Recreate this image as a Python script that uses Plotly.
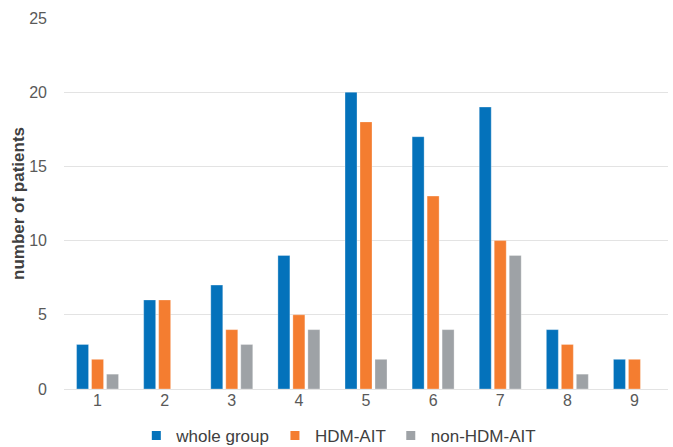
import plotly.graph_objects as go

categories = ["1", "2", "3", "4", "5", "6", "7", "8", "9"]
whole_group = [3, 6, 7, 9, 20, 17, 19, 4, 2]
hdm_ait = [2, 6, 4, 5, 18, 13, 10, 3, 2]
non_hdm_ait = [1, 0, 3, 4, 2, 4, 9, 1, 0]

series = [
    ("whole group", whole_group, "#0472BB"),
    ("HDM-AIT", hdm_ait, "#F47D30"),
    ("non-HDM-AIT", non_hdm_ait, "#9EA2A6"),
]

fig = go.Figure()
for name, vals, color in series:
    fig.add_trace(go.Bar(
        x=categories, y=vals, name=name, showlegend=False,
        marker=dict(color=color, line=dict(color="rgba(255,255,255,0.5)", width=0.6)),
    ))
    # small square legend key
    fig.add_trace(go.Scatter(
        x=[None], y=[None], name=name, mode="markers",
        marker=dict(symbol="square", size=9, color=color),
    ))

fig.update_layout(
    width=673, height=447,
    margin=dict(l=64, r=5, t=18, b=58, autoexpand=False),
    paper_bgcolor="white", plot_bgcolor="white",
    barmode="group", bargap=0.33, bargroupgap=0.2,
    font=dict(family="Liberation Sans, Arial, sans-serif", color="#595959", size=15),
    legend=dict(
        orientation="h", x=0.455, xanchor="center",
        yref="container", y=0.025, yanchor="middle",
        font=dict(size=17, color="#404040"),
        itemwidth=30, traceorder="normal",
    ),
    xaxis=dict(
        showgrid=False, showline=False, ticks="",
        tickfont=dict(size=16, color="#595959"),
    ),
    yaxis=dict(
        range=[0, 25], dtick=5, showgrid=True, gridcolor="#E3E3E3", gridwidth=1,
        zeroline=True, zerolinecolor="#E3E3E3", zerolinewidth=1,
        ticks="", ticklabelstandoff=16,
        tickfont=dict(size=16, color="#595959"),
        title=dict(text="<b>number of patients</b>", font=dict(size=17, color="#404040"), standoff=0),
    ),
)

fig.write_html("out.html")
